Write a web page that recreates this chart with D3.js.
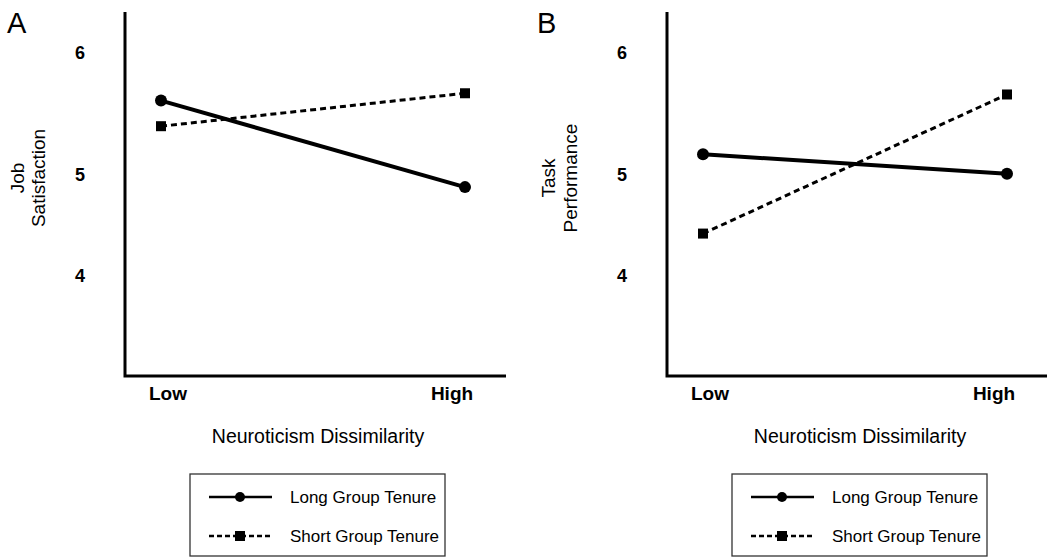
<!DOCTYPE html>
<meta charset="utf-8">
<title>Neuroticism dissimilarity x group tenure</title>
<style>
    body { margin: 0; background: #fff; }
    text { font-family: "Liberation Sans", Arial, sans-serif; fill: #000; }
</style>
<script src="https://d3js.org/d3.v7.js"></script>
<body>
<script>
    // data
    const xCats = ["Low", "High"];
    const yTicks = [4, 5, 6];
    const seriesNames = ["Long Group Tenure", "Short Group Tenure"];
    const panelLetters = ["A", "B"];
    const yTitles = [["Job", "Satisfaction"], ["Task", "Performance"]];
    const xTitle = "Neuroticism Dissimilarity";

    // panel A : job satisfaction
    const longA = [5.61, 4.88];
    const shortA = [5.40, 5.67];
    // panel B : task performance
    const longB = [5.17, 5.01];
    const shortB = [4.42, 5.66];

    const panels = [
        {letter: panelLetters[0], title: yTitles[0], series: [longA, shortA], dx: 0, letterX: 7, titleX: [24, 45]},
        {letter: panelLetters[1], title: yTitles[1], series: [longB, shortB], dx: 542, letterX: -5, titleX: [13, 35]}
    ];

    const svg = d3.select("body").append("svg")
        .attr("width", 1047)
        .attr("height", 557);

    // the tick labels of the original are not evenly spaced, so the scale is piecewise
    const y = d3.scaleLinear()
        .domain([3, 4, 5, 6])
        .range([376, 276, 175, 53]);

    const x = d3.scalePoint().domain(xCats).range([161, 465]);
    const xLab = d3.scalePoint().domain(xCats).range([168, 452]);

    panels.forEach(p => {
        const g = svg.append("g").attr("transform", `translate(${p.dx},0)`);

        // panel letter
        g.append("text")
            .attr("x", p.letterX).attr("y", 33)
            .style("font-size", "29px")
            .text(p.letter);

        // axis lines
        g.append("path")
            .attr("d", "M125,12V376H506")
            .attr("fill", "none")
            .attr("stroke", "#000")
            .attr("stroke-width", 3);

        // y tick labels
        g.selectAll(".ytick")
            .data(yTicks)
            .join("text")
            .attr("class", "ytick")
            .attr("x", 80)
            .attr("y", d => y(d))
            .attr("dy", "0.35em")
            .attr("text-anchor", "middle")
            .style("font-size", "18px")
            .style("font-weight", "bold")
            .text(d => d);

        // x tick labels
        g.selectAll(".xtick")
            .data(xCats)
            .join("text")
            .attr("class", "xtick")
            .attr("x", d => xLab(d))
            .attr("y", 400)
            .attr("text-anchor", "middle")
            .style("font-size", "19px")
            .style("font-weight", "bold")
            .text(d => d);

        // axis titles
        g.append("text")
            .attr("x", 318).attr("y", 443)
            .attr("text-anchor", "middle")
            .style("font-size", "19.5px")
            .text(xTitle);

        p.title.forEach((t, i) => {
            g.append("text")
                .attr("transform", `translate(${p.titleX[i]},178) rotate(-90)`)
                .attr("text-anchor", "middle")
                .style("font-size", "19px")
                .text(t);
        });

        // lines
        const line = d3.line()
            .x((d, i) => x(xCats[i]))
            .y(d => y(d));

        p.series.forEach((vals, si) => {
            g.append("path")
                .datum(vals)
                .attr("d", line)
                .attr("fill", "none")
                .attr("stroke", "#000")
                .attr("stroke-width", si === 0 ? 4 : 3)
                .attr("stroke-dasharray", si === 0 ? null : "6,4");

            if (si === 0) {
                g.selectAll(".dot" + si)
                    .data(vals)
                    .join("circle")
                    .attr("cx", (d, i) => x(xCats[i]))
                    .attr("cy", d => y(d))
                    .attr("r", 6);
            } else {
                g.selectAll(".sq" + si)
                    .data(vals)
                    .join("rect")
                    .attr("x", (d, i) => x(xCats[i]) - 5)
                    .attr("y", d => y(d) - 5)
                    .attr("width", 10)
                    .attr("height", 10);
            }
        });

        // legend
        const lg = g.append("g").attr("transform", "translate(190,474)");
        lg.append("rect")
            .attr("x", 0).attr("y", 0)
            .attr("width", 255).attr("height", 82)
            .attr("fill", "none")
            .attr("stroke", "#333")
            .attr("stroke-width", 1.3);

        seriesNames.forEach((name, i) => {
            const ly = i === 0 ? 23 : 62;
            lg.append("line")
                .attr("x1", 19).attr("x2", 82)
                .attr("y1", ly).attr("y2", ly)
                .attr("stroke", "#000")
                .attr("stroke-width", 2.5)
                .attr("stroke-dasharray", i === 0 ? null : "5,3");
            if (i === 0) {
                lg.append("circle").attr("cx", 50).attr("cy", ly).attr("r", 5);
            } else {
                lg.append("rect").attr("x", 45).attr("y", ly - 5).attr("width", 10).attr("height", 10);
            }
            lg.append("text")
                .attr("x", 100).attr("y", ly)
                .attr("dy", "0.35em")
                .style("font-size", "17px")
                .text(name);
        });
    });
</script>
</body>
